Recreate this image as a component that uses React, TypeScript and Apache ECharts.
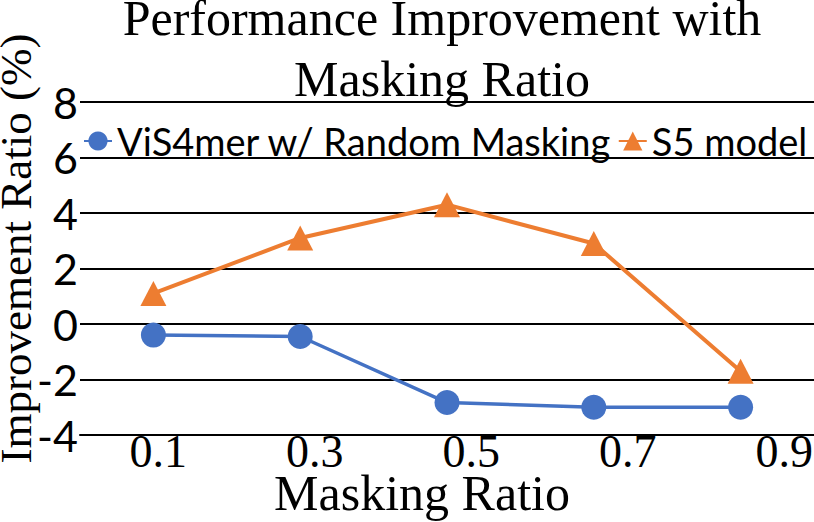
import React, { useEffect, useRef } from "react";
import * as echarts from "echarts";

const categories = ["0.1", "0.3", "0.5", "0.7", "0.9"];
const tickValues = [0.1, 0.3, 0.5, 0.7, 0.9];
const vis4merValues = [-0.4, -0.45, -2.83, -3.0, -3.0];
const s5Values = [1.1, 3.1, 4.3, 2.9, -1.7];
const seriesNames = ["ViS4mer w/ Random Masking", "S5 model"];
const titleLine1 = "Performance Improvement with";
const titleLine2 = "Masking Ratio";
const xName = "Masking Ratio";
const yName = "Improvement Ratio (%)";

const SERIF = "'Liberation Serif', 'Times New Roman', serif";
const SANS = "Lato, 'Open Sans', sans-serif";

const titleStyle = {
  fontFamily: SERIF,
  fontSize: 50,
  fontWeight: "normal",
  color: "#000",
  lineHeight: 30,
};

export default function App() {
  const ref = useRef<HTMLDivElement>(null);
  useEffect(() => {
    document.body.style.margin = "0";
    const chart = echarts.init(ref.current!, undefined, { renderer: "svg" });
    chart.setOption({
      animation: false,
      backgroundColor: "#ffffff",
      title: {
        text: titleLine1,
        subtext: titleLine2,
        left: 442,
        top: 3,
        padding: 0,
        itemGap: 11,
        textAlign: "center",
        textStyle: titleStyle,
        subtextStyle: titleStyle,
      },
      legend: {
        left: 83,
        top: 122,
        padding: 0,
        width: 731,
        itemGap: 6,
        itemWidth: 28,
        itemHeight: 24,
        data: seriesNames,
        textStyle: { fontFamily: SANS, fontSize: 38, color: "#000" },
      },
      grid: {
        left: 80,
        right: 0,
        top: 102,
        bottom: 87,
        outerBoundsMode: "none",
        containLabel: false,
      },
      xAxis: [
        {
          type: "category",
          data: categories,
          position: "bottom",
          boundaryGap: true,
          axisLine: { onZero: false, lineStyle: { color: "#000", width: 2 } },
          axisTick: { show: false },
          axisLabel: { show: false },
          splitLine: { show: false },
        },
        {
          type: "value",
          position: "bottom",
          min: 0,
          max: 0.938,
          axisLine: { show: false, onZero: false },
          axisTick: { show: false },
          splitLine: { show: false },
          axisLabel: {
            customValues: tickValues,
            formatter: (v: number) => v.toFixed(1),
            fontFamily: SERIF,
            fontSize: 46,
            lineHeight: 30,
            color: "#000",
            margin: 1,
          },
          name: xName,
          nameLocation: "middle",
          nameGap: 41,
          nameMoveOverlap: false,
          nameTextStyle: {
            fontFamily: SERIF,
            fontSize: 50,
            color: "#000",
            lineHeight: 34,
            padding: [0, 50, 0, 0],
          },
        },
      ],
      yAxis: {
        type: "value",
        min: -4,
        max: 8,
        interval: 2,
        axisLine: { show: false },
        axisTick: { show: false },
        splitLine: { lineStyle: { color: "#000", width: 2 } },
        axisLabel: {
          fontFamily: SANS,
          fontSize: 43,
          color: "#000",
          margin: 2,
        },
        name: yName,
        nameLocation: "middle",
        nameRotate: 90,
        nameGap: 46,
        nameMoveOverlap: false,
        nameTextStyle: {
          fontFamily: SERIF,
          fontSize: 45,
          color: "#000",
          lineHeight: 36,
          padding: [0, 0, 0, 40],
        },
      },
      series: [
        {
          name: seriesNames[0],
          type: "line",
          xAxisIndex: 0,
          data: vis4merValues,
          symbol: "circle",
          symbolSize: 25,
          color: "#4472C4",
          lineStyle: { color: "#4472C4", width: 3.5 },
          itemStyle: { color: "#4472C4" },
        },
        {
          name: seriesNames[1],
          type: "line",
          xAxisIndex: 0,
          data: s5Values,
          symbol: "triangle",
          symbolSize: [26, 25],
          color: "#ED7D31",
          lineStyle: { color: "#ED7D31", width: 4 },
          itemStyle: { color: "#ED7D31" },
        },
      ],
    });
    return () => chart.dispose();
  }, []);
  return (
    <div
      ref={ref}
      style={{ position: "absolute", left: 0, top: 0, width: 814, height: 522 }}
    />
  );
}
